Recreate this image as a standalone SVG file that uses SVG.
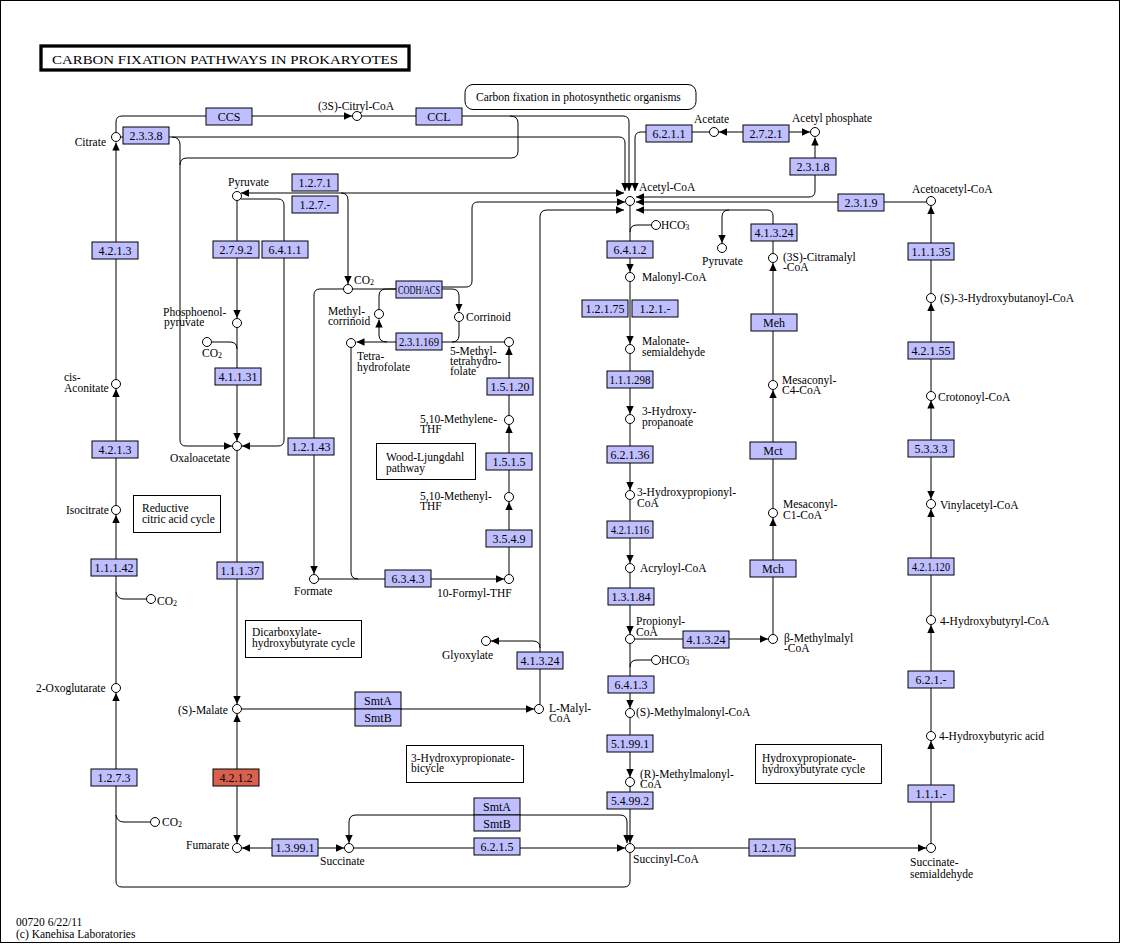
<svg xmlns="http://www.w3.org/2000/svg" width="1124" height="944" viewBox="0 0 1124 944">
<defs>
<marker id="ah" viewBox="0 0 8 8" refX="8" refY="4" markerWidth="8" markerHeight="8" markerUnits="userSpaceOnUse" orient="auto-start-reverse"><path d="M0,0.3 L8,4 L0,7.7 z" fill="#000"/></marker>
</defs>
<style>
text{font-family:"Liberation Serif","Times New Roman",serif;font-size:11.5px;fill:#000}
.e rect{fill:#BFBFFF;stroke:#000;stroke-width:1}
.e text{font-size:12px;text-anchor:middle}
.e.red rect{fill:#D9604F}
.c circle{fill:#fff;stroke:#000;stroke-width:1}
.p rect{fill:#fff;stroke:#000;stroke-width:1}
#edges path{fill:none;stroke:#000;stroke-width:1}
#edges path.a{marker-end:url(#ah)}
#edges path.b{marker-start:url(#ah);marker-end:url(#ah)}
.s{font-size:8px}
</style>
<rect x="0.5" y="0.5" width="1119" height="942" fill="#fff" stroke="#000"/>
<g id="title"><rect x="41" y="46" width="368" height="24" fill="#fff" stroke="#000" stroke-width="3.3"/><text x="52" y="63.5" font-size="16" textLength="346" lengthAdjust="spacingAndGlyphs">CARBON FIXATION PATHWAYS IN PROKARYOTES</text></g>

<g id="edges">
<path class="a" d="M116,379.5V142.5"/>
<path class="a" d="M116,505.5V389"/>
<path class="a" d="M116,683.5V515"/>
<path d="M116,592Q117,599 124,599H146.5"/>
<path class="a" d="M630,852.5V881Q630,887 624,887H122Q116,887 116,881V693"/>
<path d="M116,815Q117,822 124,822H150.5"/>
<path class="a" d="M116,132.5V122Q116,116 122,116H352"/>
<path class="a" d="M361.5,116H623Q629,116 629,122V191"/>
<path d="M510,116Q518,116 518,123V151Q518,158 511,158H187Q180,158 180,165"/>
<path class="a" d="M120.5,137H619Q625,137 625,143V191"/>
<path class="a" d="M172,137Q180,137 180,145V440Q180,446 186,446H232"/>
<path class="a" d="M709.5,132H641Q635,132 635,138V191"/>
<path class="b" d="M719,132H810"/>
<path class="b" d="M636,197H809Q815,197 815,191V137.5"/>
<path class="a" d="M926.5,202H636"/>
<path class="a" d="M773,253.5V216Q773,210 767,210H636"/>
<path class="a" d="M729,210Q722,210 722,217V243"/>
<path class="b" d="M241,193H624"/>
<path class="a" d="M341,193Q348,193 348,200V284"/>
<path class="a" d="M237,200.5V318"/>
<path class="a" d="M240.5,199H278Q284,199 284,205V440Q284,446 278,446H242"/>
<path class="a" d="M237,327.5V441"/>
<path d="M211.5,342H230Q237,342 237,349"/>
<path class="a" d="M237,450.5V704"/>
<path class="b" d="M237,843V714"/>
<path class="a" d="M241.5,709H534"/>
<path class="a" d="M540,704.5V217Q540,210 547,210H624"/>
<path class="a" d="M540,648Q540,641 533,641H491"/>
<path class="b" d="M344,848H242"/>
<path class="a" d="M354,848H625"/>
<path class="b" d="M627,843V822Q627,815 620,815H356Q349,815 349,822V843"/>
<path class="a" d="M630,786.5V843"/>
<path class="a" d="M634.5,848H926"/>
<path class="a" d="M931,843.5V741"/>
<path class="a" d="M931,731.5V625"/>
<path class="a" d="M931,615.5V509"/>
<path class="b" d="M931,400.5V499"/>
<path class="a" d="M931,391.5V303"/>
<path class="a" d="M931,293.5V206"/>
<path class="a" d="M630,205.5V272"/>
<path d="M651.5,225H637Q630,225 630,232"/>
<path class="a" d="M630,281.5V344"/>
<path class="a" d="M630,353.5V414"/>
<path class="a" d="M630,423.5V490"/>
<path class="a" d="M630,499.5V563"/>
<path class="a" d="M630,572.5V634"/>
<path class="a" d="M630,643.5V708"/>
<path d="M651.5,660H637Q630,660 630,667"/>
<path class="a" d="M630,717.5V777"/>
<path class="a" d="M634.5,639H768"/>
<path class="a" d="M773,634.5V518"/>
<path class="a" d="M773,508.5V390"/>
<path class="a" d="M773,380.5V263"/>
<path d="M352.5,289H396"/>
<path class="a" d="M343.5,289H320Q314,289 314,295V574"/>
<path d="M379,309.5V296Q379,289 386,289H396"/>
<path class="a" d="M442,287H466Q472,287 472,281V208Q472,202 478,202H625"/>
<path class="a" d="M442,289H452Q459,289 459,296V311.5"/>
<path class="a" d="M504.5,342H356.5"/>
<path d="M459,321.5V335Q459,342 452,342"/>
<path class="a" d="M387,342Q379,342 379,335V319.5"/>
<path class="a" d="M509,574.5V502"/>
<path class="a" d="M509,492.5V425"/>
<path class="a" d="M509,415.5V347"/>
<path class="a" d="M318.5,579H504"/>
<path d="M351,347.5V572Q351,579 358,579"/>
</g>

<g id="e_CCS" class="e"><rect x="206" y="108" width="46" height="17"/><text x="229" y="121">CCS</text></g>
<g id="e_2338" class="e"><rect x="123" y="127" width="46" height="17"/><text x="146" y="140">2.3.3.8</text></g>
<g id="e_CCL" class="e"><rect x="416" y="108" width="46" height="17"/><text x="439" y="121">CCL</text></g>
<g id="e_1271" class="e"><rect x="292" y="174" width="46" height="17"/><text x="315" y="187">1.2.7.1</text></g>
<g id="e_127x" class="e"><rect x="292" y="196" width="46" height="17"/><text x="315" y="209">1.2.7.-</text></g>
<g id="e_4213a" class="e"><rect x="92" y="242" width="46" height="17"/><text x="115" y="255">4.2.1.3</text></g>
<g id="e_2792" class="e"><rect x="213" y="241" width="46" height="17"/><text x="236" y="254">2.7.9.2</text></g>
<g id="e_6411" class="e"><rect x="262" y="241" width="46" height="17"/><text x="285" y="254">6.4.1.1</text></g>
<g id="e_CODH" class="e"><rect x="396" y="281" width="46" height="17"/><text x="419" y="294" textLength="42" lengthAdjust="spacingAndGlyphs">CODH/ACS</text></g>
<g id="e_6211" class="e"><rect x="646" y="125" width="46" height="17"/><text x="669" y="138">6.2.1.1</text></g>
<g id="e_2721" class="e"><rect x="743" y="125" width="46" height="17"/><text x="766" y="138">2.7.2.1</text></g>
<g id="e_2318" class="e"><rect x="790" y="158" width="46" height="17"/><text x="813" y="171">2.3.1.8</text></g>
<g id="e_2319" class="e"><rect x="838" y="194" width="46" height="17"/><text x="861" y="207">2.3.1.9</text></g>
<g id="e_41324a" class="e"><rect x="751" y="224" width="46" height="17"/><text x="774" y="237">4.1.3.24</text></g>
<g id="e_6412" class="e"><rect x="607" y="241" width="46" height="17"/><text x="630" y="254">6.4.1.2</text></g>
<g id="e_12175" class="e"><rect x="582" y="300" width="46" height="17"/><text x="605" y="313">1.2.1.75</text></g>
<g id="e_121x" class="e"><rect x="632" y="300" width="46" height="17"/><text x="655" y="313">1.2.1.-</text></g>
<g id="e_Meh" class="e"><rect x="751" y="314" width="46" height="17"/><text x="774" y="327">Meh</text></g>
<g id="e_111298" class="e"><rect x="607" y="371" width="46" height="17"/><text x="630" y="384" textLength="41" lengthAdjust="spacingAndGlyphs">1.1.1.298</text></g>
<g id="e_62136" class="e"><rect x="607" y="446" width="46" height="17"/><text x="630" y="459">6.2.1.36</text></g>
<g id="e_Mct" class="e"><rect x="750" y="442" width="46" height="17"/><text x="773" y="455">Mct</text></g>
<g id="e_421116" class="e"><rect x="607" y="521" width="46" height="17"/><text x="630" y="534" textLength="38" lengthAdjust="spacingAndGlyphs">4.2.1.116</text></g>
<g id="e_Mch" class="e"><rect x="750" y="560" width="46" height="17"/><text x="773" y="573">Mch</text></g>
<g id="e_13184" class="e"><rect x="608" y="588" width="46" height="17"/><text x="631" y="601">1.3.1.84</text></g>
<g id="e_41324b" class="e"><rect x="683" y="631" width="46" height="17"/><text x="706" y="644">4.1.3.24</text></g>
<g id="e_6413" class="e"><rect x="608" y="676" width="46" height="17"/><text x="631" y="689">6.4.1.3</text></g>
<g id="e_51991" class="e"><rect x="607" y="735" width="46" height="17"/><text x="630" y="748" textLength="38" lengthAdjust="spacingAndGlyphs">5.1.99.1</text></g>
<g id="e_54992" class="e"><rect x="607" y="792" width="46" height="17"/><text x="630" y="805" textLength="38" lengthAdjust="spacingAndGlyphs">5.4.99.2</text></g>
<g id="e_12176" class="e"><rect x="749" y="839" width="46" height="17"/><text x="772" y="852">1.2.1.76</text></g>
<g id="e_SmtAB_r" class="e"><rect x="474" y="798" width="46" height="17"/><text x="497" y="811">SmtA</text><rect x="474" y="815" width="46" height="16"/><text x="497" y="827.5">SmtB</text></g>
<g id="e_6215" class="e"><rect x="474" y="838" width="46" height="17"/><text x="497" y="851">6.2.1.5</text></g>
<g id="e_13991" class="e"><rect x="272" y="839" width="46" height="17"/><text x="295" y="852">1.3.99.1</text></g>
<g id="e_SmtAB_l" class="e"><rect x="355" y="692" width="46" height="17"/><text x="378" y="705">SmtA</text><rect x="355" y="709" width="46" height="17"/><text x="378" y="722">SmtB</text></g>
<g id="e_41324c" class="e"><rect x="517" y="652" width="46" height="17"/><text x="540" y="665">4.1.3.24</text></g>
<g id="e_4212" class="e red"><rect x="213" y="769" width="46" height="17"/><text x="236" y="782">4.2.1.2</text></g>
<g id="e_1273" class="e"><rect x="91" y="769" width="46" height="17"/><text x="114" y="782">1.2.7.3</text></g>
<g id="e_11137" class="e"><rect x="217" y="562" width="46" height="17"/><text x="240" y="575">1.1.1.37</text></g>
<g id="e_11142" class="e"><rect x="91" y="559" width="46" height="17"/><text x="114" y="572">1.1.1.42</text></g>
<g id="e_4213b" class="e"><rect x="92" y="441" width="46" height="17"/><text x="115" y="454">4.2.1.3</text></g>
<g id="e_41131" class="e"><rect x="215" y="368" width="46" height="17"/><text x="238" y="381">4.1.1.31</text></g>
<g id="e_12143" class="e"><rect x="288" y="438" width="46" height="17"/><text x="311" y="451">1.2.1.43</text></g>
<g id="e_231169" class="e"><rect x="396" y="333" width="46" height="17"/><text x="419" y="346" textLength="40" lengthAdjust="spacingAndGlyphs">2.3.1.169</text></g>
<g id="e_15120" class="e"><rect x="487" y="378" width="46" height="17"/><text x="510" y="391">1.5.1.20</text></g>
<g id="e_1515" class="e"><rect x="486" y="453" width="46" height="17"/><text x="509" y="466">1.5.1.5</text></g>
<g id="e_3549" class="e"><rect x="486" y="530" width="46" height="17"/><text x="509" y="543">3.5.4.9</text></g>
<g id="e_6343" class="e"><rect x="385" y="570" width="46" height="17"/><text x="408" y="583">6.3.4.3</text></g>
<g id="e_11135" class="e"><rect x="908" y="243" width="46" height="17"/><text x="931" y="256">1.1.1.35</text></g>
<g id="e_42155" class="e"><rect x="908" y="342" width="46" height="17"/><text x="931" y="355">4.2.1.55</text></g>
<g id="e_5333" class="e"><rect x="908" y="440" width="46" height="17"/><text x="931" y="453">5.3.3.3</text></g>
<g id="e_421120" class="e"><rect x="908" y="558" width="46" height="17"/><text x="931" y="571" textLength="38" lengthAdjust="spacingAndGlyphs">4.2.1.120</text></g>
<g id="e_621x" class="e"><rect x="908" y="671" width="46" height="17"/><text x="931" y="684">6.2.1.-</text></g>
<g id="e_111x" class="e"><rect x="908" y="785" width="46" height="17"/><text x="931" y="798">1.1.1.-</text></g>

<g id="c_citrate" class="c"><circle cx="116" cy="137" r="4.5"/><text x="106" y="146" text-anchor="end">Citrate</text></g>
<g id="c_citryl" class="c"><circle cx="357" cy="116" r="4.5"/><text x="318" y="110">(3S)-Citryl-CoA</text></g>
<g id="c_acetylcoa" class="c"><circle cx="630" cy="201" r="4.5"/><text x="639" y="191">Acetyl-CoA</text></g>
<g id="c_acetate" class="c"><circle cx="714" cy="132" r="4.5"/><text x="694" y="123">Acetate</text></g>
<g id="c_acetylp" class="c"><circle cx="815" cy="132" r="4.5"/><text x="792" y="122">Acetyl phosphate</text></g>
<g id="c_pyruvate1" class="c"><circle cx="237" cy="196" r="4.5"/><text x="228" y="186">Pyruvate</text></g>
<g id="c_pyruvate2" class="c"><circle cx="722" cy="248" r="4.5"/><text x="702" y="265">Pyruvate</text></g>
<g id="c_hco3a" class="c"><circle cx="656" cy="225" r="4.5"/><text x="661" y="229">HCO<tspan class="s" dy="1">3</tspan><tspan font-size="7" dx="-4.5" dy="-7">-</tspan></text></g>
<g id="c_malonyl" class="c"><circle cx="630" cy="277" r="4.5"/><text x="642" y="281">Malonyl-CoA</text></g>
<g id="c_citramalyl" class="c"><circle cx="773" cy="258" r="4.5"/><text x="783" y="261">(3S)-Citramalyl</text><text x="783" y="271">-CoA</text></g>
<g id="c_acetoacetyl" class="c"><circle cx="931" cy="201" r="4.5"/><text x="912" y="193">Acetoacetyl-CoA</text></g>
<g id="c_hbcoa" class="c"><circle cx="931" cy="298" r="4.5"/><text x="940" y="302">(S)-3-Hydroxybutanoyl-CoA</text></g>
<g id="c_co2a" class="c"><circle cx="348" cy="289" r="4.5"/><text x="354" y="284">CO<tspan class="s" dy="1">2</tspan></text></g>
<g id="c_methylcorr" class="c"><circle cx="379" cy="314" r="4.5"/><text x="328" y="315">Methyl-</text><text x="328" y="325">corrinoid</text></g>
<g id="c_corrinoid" class="c"><circle cx="459" cy="317" r="4.5"/><text x="466" y="321">Corrinoid</text></g>
<g id="c_pep" class="c"><circle cx="237" cy="323" r="4.5"/><text x="163" y="316">Phosphoenol-</text><text x="164" y="326">pyruvate</text></g>
<g id="c_co2b" class="c"><circle cx="207" cy="342" r="4.5"/><text x="202" y="357">CO<tspan class="s" dy="1">2</tspan></text></g>
<g id="c_cisacon" class="c"><circle cx="116" cy="384" r="4.5"/><text x="64" y="381">cis-</text><text x="64" y="392">Aconitate</text></g>
<g id="c_oaa" class="c"><circle cx="237" cy="446" r="4.5"/><text x="170" y="462">Oxaloacetate</text></g>
<g id="c_isocit" class="c"><circle cx="116" cy="510" r="4.5"/><text x="66" y="514">Isocitrate</text></g>
<g id="c_co2c" class="c"><circle cx="151" cy="599" r="4.5"/><text x="157" y="605">CO<tspan class="s" dy="1">2</tspan></text></g>
<g id="c_thf" class="c"><circle cx="351" cy="343" r="4.5"/><text x="357" y="360">Tetra-</text><text x="357" y="371">hydrofolate</text></g>
<g id="c_mthf" class="c"><circle cx="509" cy="342" r="4.5"/><text x="450" y="355">5-Methyl-</text><text x="450" y="365">tetrahydro-</text><text x="450" y="375">folate</text></g>
<g id="c_methylene" class="c"><circle cx="509" cy="420" r="4.5"/><text x="420" y="423">5,10-Methylene-</text><text x="420" y="433">THF</text></g>
<g id="c_methenyl" class="c"><circle cx="509" cy="497" r="4.5"/><text x="420" y="500">5,10-Methenyl-</text><text x="420" y="510">THF</text></g>
<g id="c_formate" class="c"><circle cx="314" cy="579" r="4.5"/><text x="294" y="595">Formate</text></g>
<g id="c_formylthf" class="c"><circle cx="509" cy="579" r="4.5"/><text x="437" y="597">10-Formyl-THF</text></g>
<g id="c_msa" class="c"><circle cx="630" cy="349" r="4.5"/><text x="642" y="345">Malonate-</text><text x="642" y="356">semialdehyde</text></g>
<g id="c_mc4" class="c"><circle cx="773" cy="385" r="4.5"/><text x="782" y="384">Mesaconyl-</text><text x="782" y="394">C4-CoA</text></g>
<g id="c_3hp" class="c"><circle cx="630" cy="419" r="4.5"/><text x="642" y="415">3-Hydroxy-</text><text x="642" y="426">propanoate</text></g>
<g id="c_3hpcoa" class="c"><circle cx="630" cy="495" r="4.5"/><text x="637" y="496">3-Hydroxypropionyl-</text><text x="637" y="507">CoA</text></g>
<g id="c_mc1" class="c"><circle cx="773" cy="513" r="4.5"/><text x="783" y="508">Mesaconyl-</text><text x="783" y="519">C1-CoA</text></g>
<g id="c_acryloyl" class="c"><circle cx="630" cy="568" r="4.5"/><text x="640" y="572">Acryloyl-CoA</text></g>
<g id="c_crotonoyl" class="c"><circle cx="931" cy="396" r="4.5"/><text x="938" y="401">Crotonoyl-CoA</text></g>
<g id="c_vinylacetyl" class="c"><circle cx="931" cy="504" r="4.5"/><text x="940" y="509">Vinylacetyl-CoA</text></g>
<g id="c_4hbcoa" class="c"><circle cx="931" cy="620" r="4.5"/><text x="940" y="625">4-Hydroxybutyryl-CoA</text></g>
<g id="c_propionyl" class="c"><circle cx="630" cy="639" r="4.5"/><text x="636" y="625">Propionyl-</text><text x="636" y="636">CoA</text></g>
<g id="c_bmm" class="c"><circle cx="773" cy="639" r="4.5"/><text x="784" y="642">β-Methylmalyl</text><text x="784" y="652">-CoA</text></g>
<g id="c_hco3b" class="c"><circle cx="656" cy="660" r="4.5"/><text x="661" y="664">HCO<tspan class="s" dy="1">3</tspan><tspan font-size="7" dx="-4.5" dy="-7">-</tspan></text></g>
<g id="c_smm" class="c"><circle cx="630" cy="713" r="4.5"/><text x="636" y="716">(S)-Methylmalonyl-CoA</text></g>
<g id="c_rmm" class="c"><circle cx="630" cy="782" r="4.5"/><text x="640" y="778">(R)-Methylmalonyl-</text><text x="640" y="788">CoA</text></g>
<g id="c_succinylcoa" class="c"><circle cx="630" cy="848" r="4.5"/><text x="633" y="863">Succinyl-CoA</text></g>
<g id="c_glyoxylate" class="c"><circle cx="486" cy="641" r="4.5"/><text x="442" y="659">Glyoxylate</text></g>
<g id="c_lmalyl" class="c"><circle cx="539" cy="709" r="4.5"/><text x="549" y="712">L-Malyl-</text><text x="549" y="722">CoA</text></g>
<g id="c_malate" class="c"><circle cx="237" cy="709" r="4.5"/><text x="178" y="714">(S)-Malate</text></g>
<g id="c_oxoglut" class="c"><circle cx="116" cy="688" r="4.5"/><text x="36" y="692">2-Oxoglutarate</text></g>
<g id="c_co2d" class="c"><circle cx="155" cy="822" r="4.5"/><text x="162" y="826">CO<tspan class="s" dy="1">2</tspan></text></g>
<g id="c_fumarate" class="c"><circle cx="237" cy="848" r="4.5"/><text x="186" y="849">Fumarate</text></g>
<g id="c_succinate" class="c"><circle cx="349" cy="848" r="4.5"/><text x="320" y="865">Succinate</text></g>
<g id="c_4hb" class="c"><circle cx="931" cy="736" r="4.5"/><text x="939" y="740">4-Hydroxybutyric acid</text></g>
<g id="c_ssa" class="c"><circle cx="931" cy="848" r="4.5"/><text x="910" y="866">Succinate-</text><text x="910" y="878">semialdehyde</text></g>

<g id="p_photo" class="p"><rect x="465" y="84.5" width="231" height="25" rx="8"/><text x="476" y="101">Carbon fixation in photosynthetic organisms</text></g>
<g id="p_rtca" class="p"><rect x="133.5" y="495.5" width="87" height="37"/><text x="142" y="512">Reductive</text><text x="142" y="523">citric acid cycle</text></g>
<g id="p_wl" class="p"><rect x="376.5" y="443.5" width="99" height="36"/><text x="386" y="461">Wood-Ljungdahl</text><text x="386" y="472">pathway</text></g>
<g id="p_dc" class="p"><rect x="245.5" y="620.5" width="116" height="37"/><text x="252" y="636">Dicarboxylate-</text><text x="252" y="647">hydroxybutyrate cycle</text></g>
<g id="p_3hp" class="p"><rect x="406.5" y="745.5" width="117" height="37"/><text x="411" y="762">3-Hydroxypropionate-</text><text x="411" y="772">bicycle</text></g>
<g id="p_hphb" class="p"><rect x="755.5" y="744.5" width="126" height="39"/><text x="762" y="762">Hydroxypropionate-</text><text x="762" y="773">hydroxybutyrate cycle</text></g>

<g id="footer"><text x="16" y="926" font-size="11">00720 6/22/11</text><text x="16" y="938" font-size="11">(c) Kanehisa Laboratories</text></g>
</svg>
